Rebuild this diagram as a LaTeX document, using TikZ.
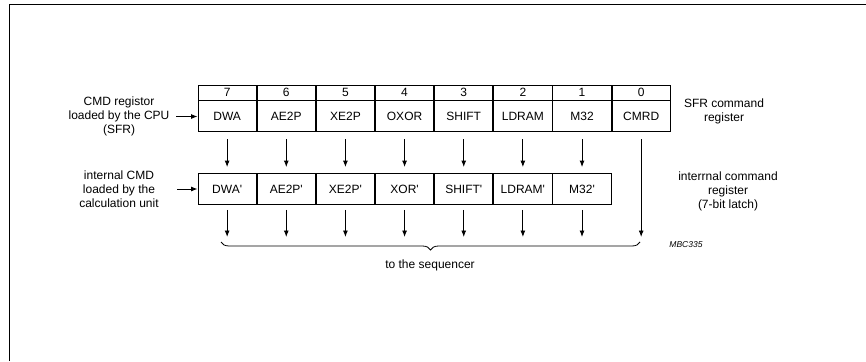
\documentclass[tikz,border=0pt]{standalone}
\usepackage{fontspec}
\setmainfont{Liberation Sans}
\usetikzlibrary{arrows.meta, positioning, decorations.pathreplacing}

\begin{document}
\begin{tikzpicture}[
    x=1pt, y=-1pt,
    node distance=0pt and 0pt,
    bitno/.style={draw, line width=0.9pt, minimum width=58.25pt, minimum height=15pt,
                  inner sep=0pt, font=\fontsize{12}{14}\selectfont},
    cell/.style={draw, line width=0.9pt, minimum width=58.25pt, minimum height=31pt,
                 inner sep=0pt, font=\fontsize{12}{14}\selectfont},
    arrow/.style={-{Latex[length=6.5pt, width=5pt]}, line width=0.9pt},
    note/.style={align=center, inner sep=0pt, font=\fontsize{12}{14}\selectfont},
    tag/.style={inner sep=0pt, font=\fontsize{8.5}{10}\selectfont\itshape}
  ]
    \useasboundingbox (0,0) rectangle (866,361);
    % frame (top and left edge only)
    \draw[line width=1pt] (9,361) -- (9,5) -- (866,5);

    % SFR command register: bit numbers
    \node[bitno] (b7) at (227.125,92.5) {7};
    \node[bitno, right=of b7] (b6) {6};
    \node[bitno, right=of b6] (b5) {5};
    \node[bitno, right=of b5] (b4) {4};
    \node[bitno, right=of b4] (b3) {3};
    \node[bitno, right=of b3] (b2) {2};
    \node[bitno, right=of b2] (b1) {1};
    \node[bitno, right=of b1] (b0) {0};

    % SFR command register: bit names
    \node[cell, below=of b7] (n7) {DWA};
    \node[cell, below=of b6] (n6) {AE2P};
    \node[cell, below=of b5] (n5) {XE2P};
    \node[cell, below=of b4] (n4) {OXOR};
    \node[cell, below=of b3] (n3) {SHIFT};
    \node[cell, below=of b2] (n2) {LDRAM};
    \node[cell, below=of b1] (n1) {M32};
    \node[cell, below=of b0] (n0) {CMRD};

    % internal command register (7-bit latch)
    \node[cell] (l7) at (227.125,189) {DWA\textquotesingle};
    \node[cell, right=of l7] (l6) {AE2P\textquotesingle};
    \node[cell, right=of l6] (l5) {XE2P\textquotesingle};
    \node[cell, right=of l5] (l4) {XOR\textquotesingle};
    \node[cell, right=of l4] (l3) {SHIFT\textquotesingle};
    \node[cell, right=of l3] (l2) {LDRAM\textquotesingle};
    \node[cell, right=of l2] (l1) {M32\textquotesingle};

    % side notes
    \node[note] (cpunote) at (119,116.5) {CMD registor\\loaded by the CPU\\(SFR)};
    \node[note] (calcnote) at (119,189) {internal CMD\\loaded by the\\calculation unit};
    \node[note] (sfrnote) at (724,111) {SFR command\\register};
    \node[note] (latchnote) at (728,191) {interrnal command\\register\\(7-bit latch)};
    \node[tag] (mbc) at (686,245) {MBC335};

    \coordinate (cpuin) at (176,116.5);
    \coordinate (calcin) at (177,189);
    \coordinate (seqin) at (0,237);

    \draw[arrow] (cpuin) -- (cpuin -| n7.west);
    \draw[arrow] (calcin) -- (l7.west);

    % register to latch
    \foreach \b in {7,...,1}
      \draw[arrow, shorten <=7pt, shorten >=6pt] (n\b.south) -- (l\b.north);

    % to the sequencer
    \foreach \b in {7,...,1}
      \draw[arrow, shorten <=5pt] (l\b.south) -- (l\b.south |- seqin);
    \draw[arrow, shorten <=7pt] (n0.south) -- (n0.south |- seqin);

    \draw[line width=0.8pt, decorate, decoration={brace, mirror, amplitude=8pt}]
      (221,242) -- (640,242);
    \node[note] (seqnote) at (430,265) {to the sequencer};
  \end{tikzpicture}
\end{document}
